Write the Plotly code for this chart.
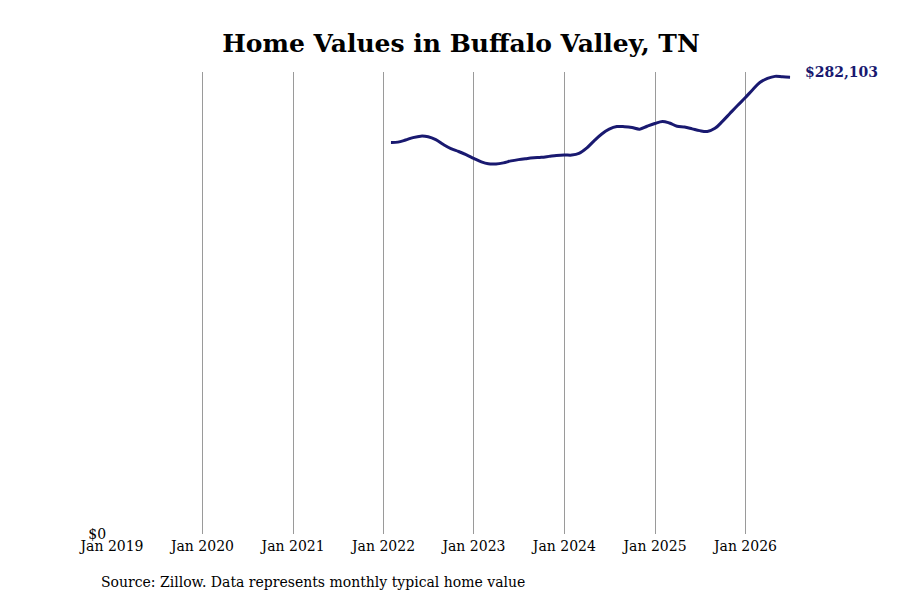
import pandas as pd
import plotly.graph_objects as go

# monthly typical home value (Zillow), month-end dates
dates = pd.date_range("2022-01-31", periods=54, freq="ME")
values = [
    241800, 242000, 243300, 244800, 245700, 245300, 243500, 240500, 238000, 236200, 234300, 232000,
    229800, 228600, 228500, 229200, 230400, 231200, 231800, 232300, 232600, 233200, 233800, 234100,
    234000, 235000, 238300, 242800, 247000, 250000, 251600, 251500, 251000, 250000, 251800, 253500,
    254800, 253800, 251800, 251300, 250200, 249100, 248600, 250500, 254800, 259800, 264600, 269400,
    274500, 278800, 281300, 282600, 282300, 282103,
]
tick_years = list(range(2019, 2027))
tick_dates = [f"{y}-01-01" for y in tick_years]
tick_text = [f"Jan {y}" for y in tick_years]

navy = "#191970"
font = "DejaVu Serif"

fig = go.Figure()
fig.add_trace(go.Scatter(x=dates, y=values, mode="lines",
                         line=dict(color=navy, width=3, shape="spline"),
                         hoverinfo="skip", showlegend=False))

fig.add_annotation(x=dates[-1], y=values[-1], text=f"<b>${values[-1]:,}</b>",
                   showarrow=False, xanchor="left", yanchor="middle", xshift=13, yshift=5,
                   font=dict(family=font, size=14, color=navy))
fig.add_annotation(xref="paper", yref="paper", x=-0.019, y=-0.104,
                   text="Source: Zillow. Data represents monthly typical home value",
                   showarrow=False, xanchor="left", yanchor="middle",
                   font=dict(family=font, size=14, color="black"))

# page adds ~8px body margin, so layout is shifted up/left by 8px
fig.update_layout(
    width=900, height=600,
    title=dict(text="<b>Home Values in Buffalo Valley, TN</b>", x=453 / 900, xanchor="center",
               y=1 - 35 / 600, yanchor="middle", font=dict(family=font, size=25, color="black")),
    font=dict(family=font, size=14, color="black"),
    plot_bgcolor="white", paper_bgcolor="white",
    margin=dict(l=104, r=113, t=64, b=74),
    xaxis=dict(range=["2019-01-01", "2026-07-20"], tickvals=tick_dates, ticktext=tick_text,
               showgrid=True, gridcolor="#9a9a9a", gridwidth=1, zeroline=False,
               showline=False, ticks="", ticklabelstandoff=2),
    yaxis=dict(range=[0, 285300], tickvals=[0], ticktext=["$0"], showgrid=False,
               zeroline=False, showline=True, linecolor="white", linewidth=3, ticks=""),
)

fig.write_html("out.html")
